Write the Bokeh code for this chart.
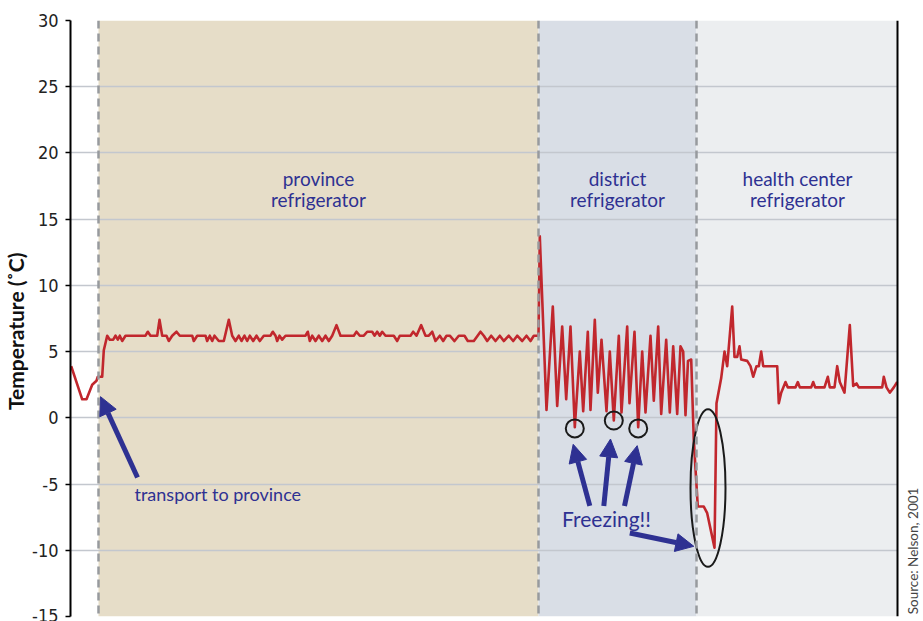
import math
from bokeh.plotting import figure
from bokeh.models import (Range1d, BoxAnnotation, Span, Label, Arrow, NormalHead,
                          FixedTicker, PrintfTickFormatter)
from bokeh.embed import file_html
from bokeh.resources import INLINE

# ---- data (time in arbitrary units, temperature in deg C) ----
time = [0.7, 11.7, 16, 21.7, 26, 27.3, 31.7, 33.3, 36.7, 39.3, 42.7, 45, 47.3, 49.3, 51.7, 55,
        75, 77.3, 80, 86.7, 89, 91.7, 96, 98.3, 101.7, 106, 109.3, 121.7, 123.3, 126.7, 135,
        136.7, 139.3, 141.7, 144, 148.3, 153.3, 158.3, 161.7, 165, 168.3, 171, 174, 176.7,
        179.3, 182.7, 186, 189.3, 193.3, 200, 202.3, 205, 206.7, 209, 211.7, 215, 235, 237.3,
        239.3, 241.7, 245, 248.3, 251.7, 255, 258.3, 261.7, 266, 270, 283.3, 286, 289.3,
        293.3, 296.7, 301.7, 304, 306.7, 309.3, 311.7, 315, 323.3, 326.7, 329.3, 340, 342.7,
        346, 350.7, 355, 358.3, 361.7, 365, 369.3, 372.7, 376, 379.3, 384, 388.3, 394, 397.3,
        403.3, 410, 413.3, 416.7, 420.7, 425, 429.3, 433.3, 438.3, 442.7, 446.7, 451.7, 456,
        460, 463.3, 468,
        469.3, 476, 482.3, 486.7, 491.7, 495.7, 500, 504.3, 509.3, 512.7, 517.3, 520, 524.3,
        527.3, 531, 536, 539.3, 543.3, 548.3, 551, 556.7, 559, 564, 567.7, 571.7, 575, 580,
        583.3, 587.7, 590.7, 595.7, 599.3, 602.7, 606.7, 610, 612.7, 615, 617.5, 620.7,
        623.3, 627.3, 633.3, 636.7, 644, 646, 650.7, 654, 656.7, 661.7, 664, 666.7, 669,
        670.7, 676.7, 680, 682.7, 686, 688.3, 690.7, 692.7, 706.7, 708.3, 710.7, 715, 717.3,
        725, 727.3, 729.3, 740.7, 742.7, 744.7, 754, 757.3, 759.3, 764, 766.7, 769.3, 774,
        779.3, 782.7, 786, 788.3, 811.7, 813.3, 816, 819.3, 823.3, 826.7]
temp = [3.9, 1.4, 1.4, 2.5, 2.8, 3.1, 3.1, 5.1, 6.2, 5.9, 5.9, 6.2, 5.9, 6.2, 5.8, 6.2,
        6.2, 6.5, 6.2, 6.2, 7.4, 6.2, 6.2, 5.8, 6.2, 6.5, 6.2, 6.2, 5.8, 6.2, 6.2,
        5.8, 6.2, 5.8, 6.2, 5.8, 5.8, 7.4, 6.2, 5.8, 6.2, 5.8, 6.2, 5.8,
        6.2, 5.8, 6.2, 5.8, 6.2, 6.2, 6.5, 6.2, 5.8, 6.2, 5.9, 6.2, 6.2, 6.5,
        5.8, 6.2, 5.8, 6.2, 5.8, 6.2, 5.8, 6.2, 7.0, 6.2, 6.2, 6.5, 6.2,
        6.2, 6.5, 6.5, 6.2, 6.5, 6.2, 6.5, 6.2, 6.2, 5.8, 6.2, 6.2, 6.5,
        6.2, 7.0, 6.2, 6.2, 6.5, 5.8, 6.2, 5.8, 6.2, 6.2, 5.8, 6.2, 6.2, 5.8,
        5.8, 6.5, 6.2, 5.8, 6.2, 5.8, 6.2, 5.8, 6.2, 5.8, 6.2, 5.8, 6.2,
        5.8, 6.2, 6.2,
        13.7, 0.6, 8.4, 0.9, 6.9, 1.4, 6.9, -0.7, 5.0, 0.5, 6.5, 0.6, 7.4,
        1.9, 5.9, 0.5, 5.0, -0.2, 6.2, 0.4, 6.9, 1.1, 6.5, -0.7, 5.0, 0.4, 6.2,
        1.3, 6.9, 0.3, 5.9, 0.4, 5.4, 0.3, 5.4, 5.0, 0.2, 4.3, 4.4,
        -1.7, -6.7, -6.7, -7.2, -9.8, 1.1, 3.0, 5.0, 3.9, 8.4, 4.6, 4.6, 5.4,
        4.4, 4.3, 3.9, 3.1, 3.9, 3.9, 5.0, 3.9, 3.9, 1.1, 1.9, 2.7, 2.3,
        2.3, 2.7, 2.3, 2.3, 2.7, 2.3, 2.3, 3.1, 2.3, 2.3, 3.9, 2.7, 1.9,
        7.0, 2.4, 2.6, 2.3, 2.3, 3.1, 2.3, 1.9, 2.3, 2.7]

phase_names = [["province", "refrigerator"], ["district", "refrigerator"],
               ["health center", "refrigerator"]]
phase_start = [28, 468, 626]
phase_end = [468, 626, 827]
phase_colors = ["#E6DDC8", "#D9DEE6", "#ECEEF0"]
phase_label_x = [248, 547, 727]
phase_label_y = [18.1, 16.5]

y_ticks = [-15, -10, -5, 0, 5, 10, 15, 20, 25, 30]
X_END = 827          # end of the recorded period (right frame line)
X_MARGIN_END = 853   # room for the source note to the right

freeze_points_x = [504.3, 543.3, 567.7]
freeze_points_y = [-0.8, -0.2, -0.8]
freeze_arrows = [(519.3, -6.65, 502.7, -2.0), (533.3, -6.65, 540.0, -1.6),
                 (554.0, -6.65, 566.7, -2.1), (559.3, -8.7, 623.3, -9.7)]
transport_arrow = (67, -4.5, 30, 1.6)

BLUE = "#2E3192"
RED = "#C1272D"
FONT = "Lato"

p = figure(width=923, height=621, output_backend="svg", toolbar_location=None,
           x_range=Range1d(0, X_MARGIN_END), y_range=Range1d(-15, 30),
           x_axis_location=None, y_axis_location="left",
           min_border_left=70, min_border_right=0, min_border_top=20, min_border_bottom=5)
p.outline_line_color = None
p.background_fill_color = "white"
p.xgrid.visible = False
p.ygrid.ticker = FixedTicker(ticks=y_ticks)
p.ygrid.grid_line_color = "#C3C7CE"
p.ygrid.grid_line_width = 1.5

ax = p.yaxis[0]
ax.ticker = FixedTicker(ticks=y_ticks)
ax.formatter = PrintfTickFormatter(format="%d")
ax.minor_tick_line_color = None
ax.major_tick_in = 0
ax.major_tick_out = 5
ax.major_tick_line_width = 1.5
ax.axis_line_width = 2
ax.axis_line_color = "black"
ax.major_label_text_font = "DejaVu Sans Condensed"
ax.major_label_text_font_size = "18px"
ax.major_label_text_color = "#222222"
ax.major_label_standoff = 7
ax.axis_label = "Temperature (˚C)\u00a0\u00a0\u00a0\u00a0\u00a0"
ax.axis_label_text_font = FONT
ax.axis_label_text_font_style = "bold"
ax.axis_label_text_font_size = "21px"
ax.axis_label_text_color = "#111111"
ax.axis_label_standoff = 1

for s, e, c in zip(phase_start, phase_end, phase_colors):
    p.add_layout(BoxAnnotation(left=s, right=e, fill_color=c, fill_alpha=1,
                               line_color=None, level="image"))

# white margin to the right of the recording (hides grid lines there)
p.quad(left=[X_END], right=[X_MARGIN_END], bottom=[-15], top=[30],
       fill_color="white", line_color=None)

p.line(time, temp, line_color=RED, line_width=2.6, line_join="round")

for s in phase_start:
    p.add_layout(Span(location=s, dimension="height", line_color="#979A9E",
                      line_width=2.5, line_dash="8 5"))
p.add_layout(Span(location=X_END, dimension="height", line_color="black", line_width=2))

for names, lx in zip(phase_names, phase_label_x):
    for txt, ly in zip(names, phase_label_y):
        p.add_layout(Label(x=lx, y=ly, text=txt, text_align="center",
                           text_baseline="middle", text_font=FONT,
                           text_font_size="19px", text_color=BLUE))

p.add_layout(Label(x=64, y=-5.75, text="transport to province", text_align="left",
                   text_baseline="middle", text_font=FONT, text_font_size="18px",
                   text_color=BLUE))
p.add_layout(Label(x=536, y=-7.6, text="Freezing!!", text_align="center",
                   text_baseline="middle", text_font=FONT, text_font_size="21px",
                   text_color=BLUE))

for (x0, y0, x1, y1) in freeze_arrows + [transport_arrow]:
    p.add_layout(Arrow(end=NormalHead(size=18, fill_color=BLUE, line_color=BLUE),
                       x_start=x0, y_start=y0, x_end=x1, y_end=y1,
                       line_color=BLUE, line_width=5))

p.scatter(freeze_points_x, freeze_points_y, marker="circle", size=18,
          fill_color=None, line_color="#1A1A1A", line_width=2)
p.ellipse(x=[637.5], y=[-5.3], width=[35], height=[11.9], fill_color=None,
          line_color="#1A1A1A", line_width=2)

p.add_layout(Label(x=842, y=-10.05, text="Source: Nelson, 2001", angle=math.pi / 2,
                   text_align="center", text_baseline="middle", text_font=FONT,
                   text_font_size="13.5px", text_color="#444444"))

open("out.html", "w").write(file_html(p, INLINE))
